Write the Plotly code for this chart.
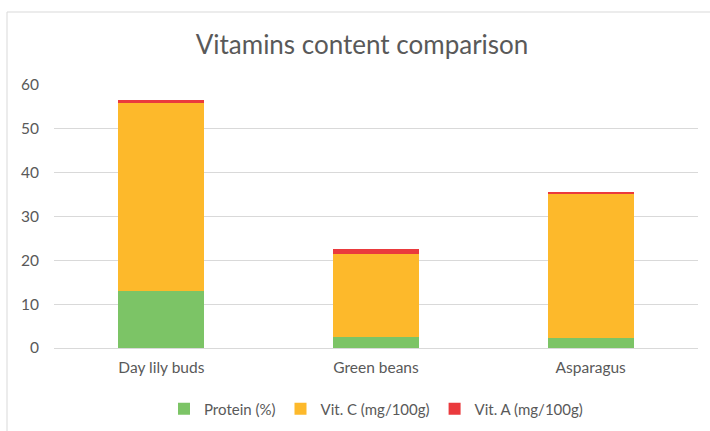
import plotly.graph_objects as go

categories = ["Day lily buds", "Green beans", "Asparagus"]
protein = [13.1, 2.6, 2.2]
vit_c = [43.0, 18.9, 33.0]
vit_a = [0.45, 1.0, 0.35]
y_ticks = [0, 10, 20, 30, 40, 50, 60]

series_names = ["Protein (%)", "Vit. C (mg/100g)", "Vit. A (mg/100g)"]
colors = ["#7cc466", "#fdb92b", "#ea3a3d"]

fig = go.Figure()
for name, vals, col in zip(series_names, [protein, vit_c, vit_a], colors):
    fig.add_trace(go.Bar(x=categories, y=vals, name=name, marker=dict(color=col, line=dict(width=0))))

L, R, T, B = 54, 12, 85, 83
W, H = 710, 431
pw = W - L - R
ph = H - T - B

def px_x(p):
    return (p - L) / pw

def px_y(p):
    return (H - B - p) / ph

fig.update_layout(
    width=W, height=H,
    barmode="stack",
    bargap=0.6,
    margin=dict(l=L, r=R, t=T, b=B),
    paper_bgcolor="white",
    plot_bgcolor="white",
    font=dict(family="Lato, Open Sans, sans-serif", color="#595959", size=15),
    title=dict(text="Vitamins content comparison", x=362 / W, xanchor="center",
               y=1 - 45 / H, yanchor="middle",
               font=dict(size=26, color="#595959", family="Lato, sans-serif")),
    xaxis=dict(showgrid=False, showline=True, linecolor="#d9d9d9", linewidth=1,
               ticks="", tickfont=dict(size=15.5, color="#595959"), automargin=False,
               ticklabelstandoff=5),
    yaxis=dict(range=[0, 60], tickvals=y_ticks, showgrid=True, gridcolor="#d9d9d9",
               gridwidth=1, zeroline=False, showline=False, ticks="",
               tickfont=dict(size=15.5, color="#595959"), ticklabelstandoff=14,
               automargin=False),
    legend=dict(orientation="h", x=0.5, xanchor="center",
                yref="container", y=1 - 409 / H, yanchor="middle",
                font=dict(size=15, color="#595959"), traceorder="normal",
                itemwidth=30, itemsizing="constant", tracegroupgap=0),
    shapes=[
        dict(type="line", xref="paper", yref="paper", x0=px_x(7), x1=px_x(720),
             y0=px_y(12), y1=px_y(12), line=dict(color="#d9d9d9", width=1)),
        dict(type="line", xref="paper", yref="paper", x0=px_x(7), x1=px_x(7),
             y0=px_y(12), y1=px_y(440), line=dict(color="#d9d9d9", width=1)),
    ],
)

fig.write_html("out.html", config={"displayModeBar": False},
               post_script="document.body.style.margin='0';document.body.style.overflow='hidden';")
